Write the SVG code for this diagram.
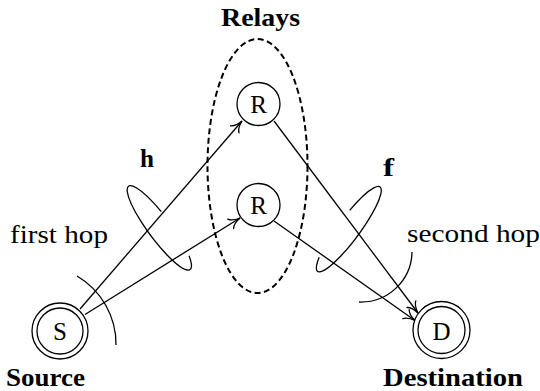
<svg xmlns="http://www.w3.org/2000/svg" width="540" height="391" viewBox="0 0 540 391">
  <defs>
    <marker id="arrow" markerUnits="userSpaceOnUse" viewBox="-12 -7 13 14" markerWidth="13" markerHeight="14" refX="0" refY="0" orient="auto">
      <path d="M -11,-5.5 C -9,-2.5 -3,-0.5 0,0 C -3,0.5 -9,2.5 -11,5.5" fill="none" stroke="#000" stroke-width="1.3" stroke-linecap="round"/>
    </marker>
  </defs>
  <style>
    text { font-family: "Liberation Serif", "Times New Roman", serif; font-size: 25px; fill: #000; }
    .b { font-weight: bold; }
    .node circle { fill: #fff; stroke: #000; stroke-width: 1.3; }
    .edge { fill: none; stroke: #000; stroke-width: 1.3; marker-end: url(#arrow); }
    .curve { fill: none; stroke: #000; stroke-width: 1.3; }
    .group { fill: none; stroke: #000; stroke-width: 2; stroke-dasharray: 6 3.5; }
  </style>

  <!-- relay cluster -->
  <g id="relays">
    <ellipse class="group" cx="257.5" cy="166" rx="50" ry="127"/>
    <text class="b" x="221" y="26" textLength="79" lengthAdjust="spacingAndGlyphs">Relays</text>
  </g>

  <!-- hop loops and sweep arcs -->
  <g id="annotations">
    <path class="curve" d="M 189,255.7 A 51.8 11.5 53.5 1 1 161.3,211.7"/>
    <text class="b" x="140" y="167" textLength="14" lengthAdjust="spacingAndGlyphs">h</text>
    <path class="curve" d="M 349.7,210.3 A 52.5 11 -53.5 1 1 319.2,257.3"/>
    <text class="b" x="383" y="176" textLength="11" lengthAdjust="spacingAndGlyphs">f</text>
    <path class="curve" d="M 77,276 A 79 79 0 0 1 116,345"/>
    <text x="10" y="243" textLength="98" lengthAdjust="spacingAndGlyphs">first hop</text>
    <path class="curve" d="M 412,252 A 51 51 0 0 1 359,302"/>
    <text x="407" y="242" textLength="133" lengthAdjust="spacingAndGlyphs">second hop</text>
  </g>

  <!-- connectors -->
  <g id="edges">
    <path class="edge" d="M 80,309 L 242,121"/>
    <path class="edge" d="M 85,314.5 L 240,218"/>
    <path class="edge" d="M 274,121 L 418,313"/>
    <path class="edge" d="M 274,221 L 415,320.5"/>
  </g>

  <g id="relay1" class="node">
    <circle cx="258.5" cy="104" r="21.5"/>
    <text x="258.5" y="112.5" text-anchor="middle" font-size="26">R</text>
  </g>
  <g id="relay2" class="node">
    <circle cx="258.5" cy="205" r="21.5"/>
    <text x="258.5" y="213.5" text-anchor="middle" font-size="26">R</text>
  </g>

  <g id="source" class="node">
    <circle cx="60" cy="331" r="28"/>
    <circle cx="60" cy="331" r="23"/>
    <text x="60" y="339.5" text-anchor="middle" font-size="26">S</text>
    <text class="b" x="6" y="386" textLength="79" lengthAdjust="spacingAndGlyphs">Source</text>
  </g>

  <g id="destination" class="node">
    <circle cx="441.5" cy="330" r="28.5"/>
    <circle cx="441.5" cy="330" r="23.5"/>
    <text x="441.5" y="339.5" text-anchor="middle" font-size="26">D</text>
    <text class="b" x="383" y="386" textLength="140" lengthAdjust="spacingAndGlyphs">Destination</text>
  </g>
</svg>
